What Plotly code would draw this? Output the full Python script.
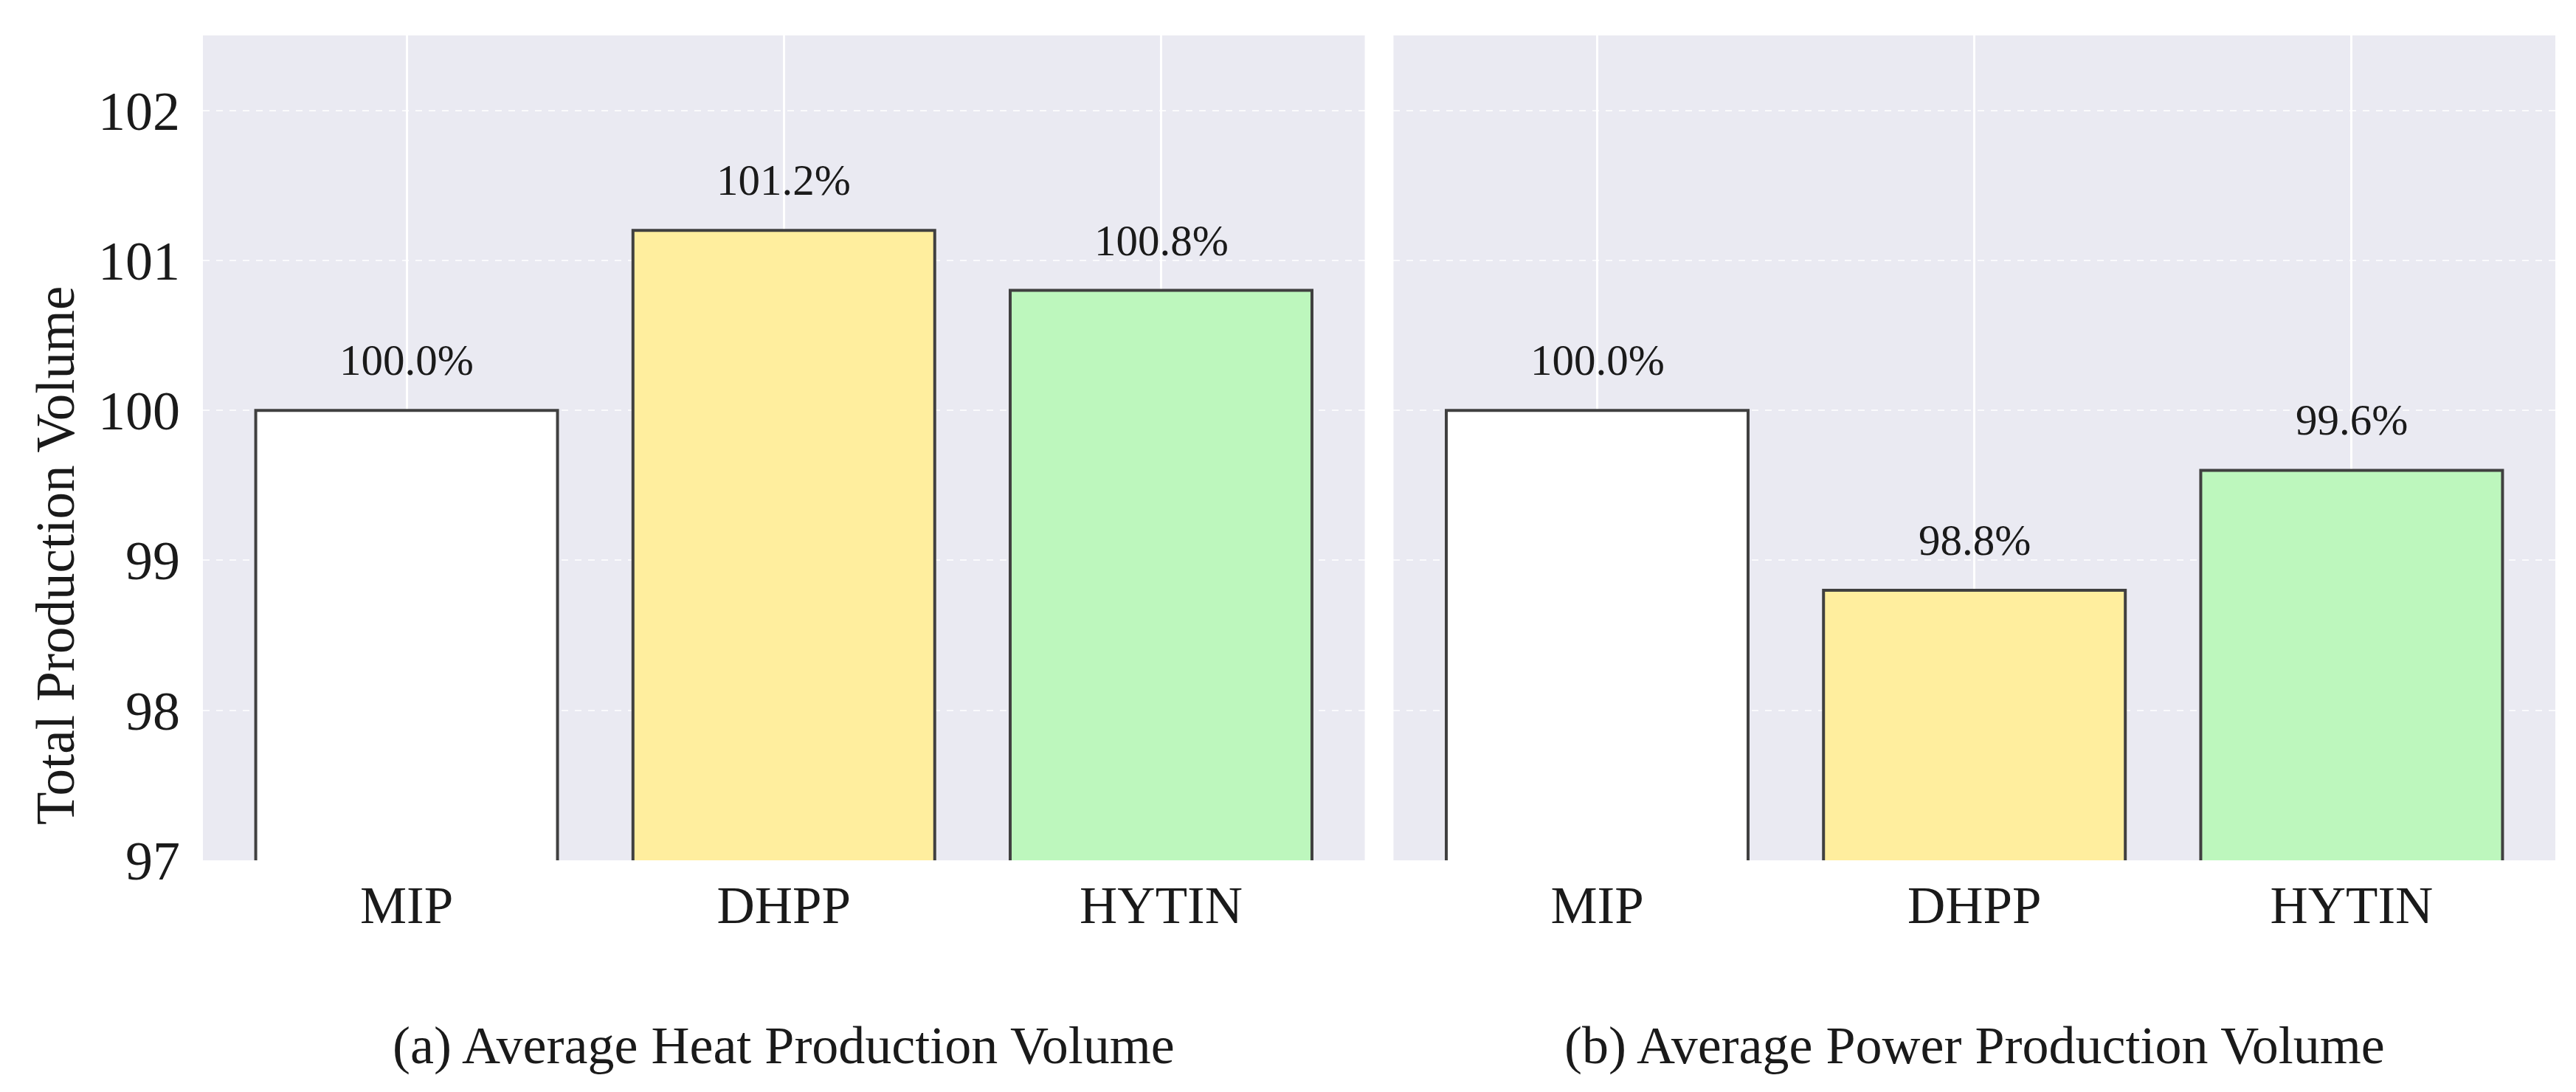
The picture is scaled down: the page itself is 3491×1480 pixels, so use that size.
import plotly.graph_objects as go
from plotly.subplots import make_subplots

categories = ["MIP", "DHPP", "HYTIN"]
heat_values = [100.0, 101.2, 100.8]
power_values = [100.0, 98.8, 99.6]
bar_colors = ["#FFFFFF", "#FFEE9E", "#BDF7BD"]
panel_titles = ["(a) Average Heat Production Volume", "(b) Average Power Production Volume"]
y_label = "Total Production Volume"
y_ticks = [97, 98, 99, 100, 101, 102]

W, H = 3491, 1480
L, R, T, B = 267, 36, 40, 322
FONT = "Liberation Serif"
BG = "#EAEAF2"

fig = make_subplots(rows=1, cols=2, shared_yaxes=True, horizontal_spacing=0.0122)

for col, vals in ((1, heat_values), (2, power_values)):
    fig.add_trace(go.Bar(
        x=categories, y=vals, width=0.8,
        marker=dict(color=bar_colors, line=dict(color="#404040", width=4)),
        showlegend=False, hoverinfo="skip",
    ), row=1, col=col)
    xref = "x" if col == 1 else "x2"
    yref = "y" if col == 1 else "y2"
    for c, v in zip(categories, vals):
        fig.add_annotation(x=c, y=v, xref=xref, yref=yref, text=f"{v:.1f}%",
                           showarrow=False, yanchor="bottom", yshift=33,
                           font=dict(family=FONT, size=59, color="#1a1a1a"))

axis_common = dict(
    showgrid=True, gridcolor="white", gridwidth=3, zeroline=False,
    showline=False, ticks="", tickfont=dict(family=FONT, size=71, color="#1a1a1a"),
)
for i in (1, 2):
    fig.update_xaxes(axis_common, range=[-0.54, 2.54], ticklabelstandoff=13, row=1, col=i)
    fig.update_yaxes(dict(axis_common, gridcolor="rgba(255,255,255,0.75)", gridwidth=2, griddash="dash",
                          tickfont=dict(family=FONT, size=74, color="#1a1a1a")),
                     range=[97, 102.5], tickvals=y_ticks, row=1, col=i)
fig.update_yaxes(ticklabelstandoff=30, row=1, col=1)
fig.update_yaxes(showticklabels=False, row=1, col=2)

plot_h = H - T - B
sub_y = (H - B - 1409) / plot_h
d1 = fig.layout.xaxis.domain
d2 = fig.layout.xaxis2.domain
for title, dom in zip(panel_titles, (d1, d2)):
    fig.add_annotation(x=(dom[0] + dom[1]) / 2, y=sub_y, xref="paper", yref="paper",
                       text=title, showarrow=False, xanchor="center", yanchor="middle",
                       font=dict(family=FONT, size=72, color="#1a1a1a"))

plot_w = W - L - R
fig.add_annotation(x=(67 - L) / plot_w, y=(H - B - 745) / plot_h, xref="paper", yref="paper",
                   text=y_label, textangle=-90, showarrow=False, xanchor="center", yanchor="middle",
                   font=dict(family=FONT, size=73, color="#1a1a1a"))

fig.update_layout(
    width=W, height=H, margin=dict(l=L, r=R, t=T, b=B),
    paper_bgcolor="white", plot_bgcolor=BG, bargap=0.2,
    font=dict(family=FONT, color="#1a1a1a"),
)

fig.write_html("out.html")
